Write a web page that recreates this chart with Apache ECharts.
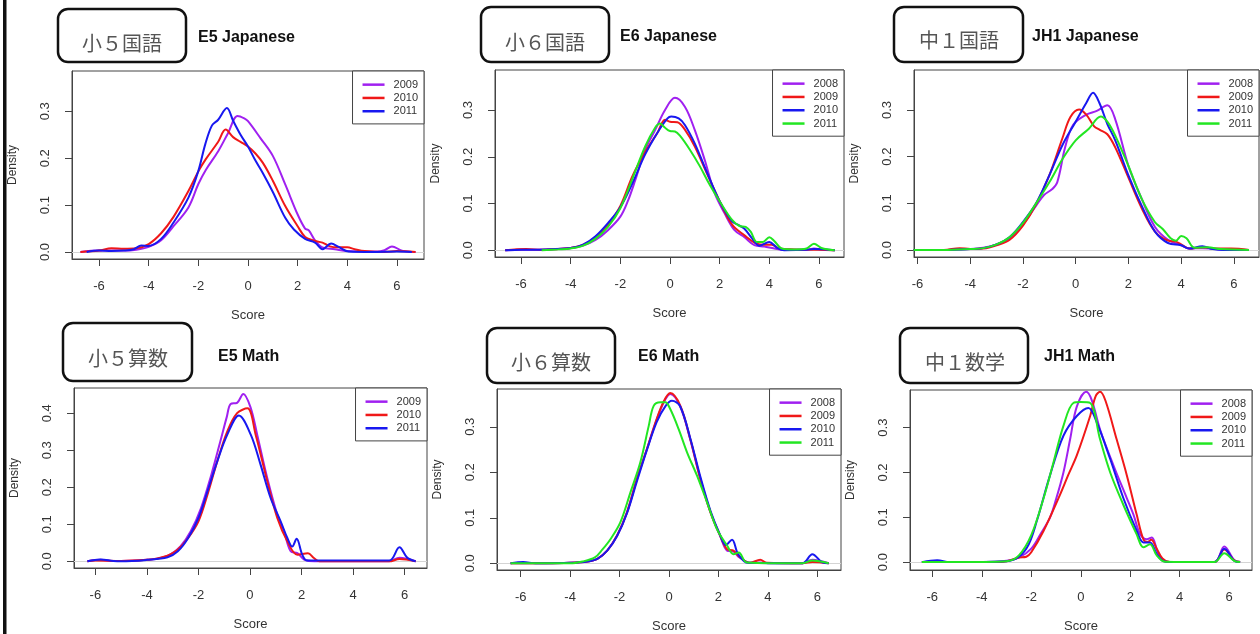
<!DOCTYPE html>
<html><head><meta charset="utf-8">
<script src="https://cdn.jsdelivr.net/npm/echarts@6/dist/echarts.min.js"></script>
<style>html,body{margin:0;padding:0;background:#fff}#c{width:1260px;height:634px}</style>
</head><body><div id="c"></div>
<script>
// ---- tick labels ----
const xTicks = [-6, -4, -2, 0, 2, 4, 6];
const yTicks3 = [0, 0.1, 0.2, 0.3];
const yTicks4 = [0, 0.1, 0.2, 0.3, 0.4];

// ---- E5 Japanese ----
const E5J_2009 = [[-6.75,0],[-6,0.003],[-5.5,0.003],[-5,0.003],[-4.5,0.005],[-4,0.011],[-3.5,0.025],[-3,0.055],[-2.4,0.095],[-2,0.145],[-1.7,0.175],[-1.2,0.215],[-0.8,0.254],[-0.42,0.29],[-0.15,0.285],[0,0.279],[0.5,0.243],[1,0.205],[1.5,0.144],[2,0.08],[2.3,0.05],[2.45,0.046],[2.7,0.025],[3,0.01],[3.5,0.006],[4,0.002],[4.5,0.001],[5.2,0.001],[5.5,0.004],[5.8,0.012],[6.2,0.003],[6.75,0]];
const E5J_2010 = [[-6.75,0],[-6,0.003],[-5.5,0.008],[-5,0.007],[-4.5,0.008],[-4,0.017],[-3.5,0.04],[-3,0.075],[-2.4,0.13],[-2,0.172],[-1.7,0.198],[-1.2,0.235],[-0.9,0.261],[-0.6,0.245],[-0.3,0.235],[0,0.225],[0.3,0.21],[0.6,0.19],[1,0.152],[1.5,0.098],[2,0.055],[2.3,0.032],[2.6,0.025],[3,0.02],[3.3,0.012],[3.6,0.01],[4,0.01],[4.3,0.006],[4.7,0.002],[5.5,0],[6,0.002],[6.75,0]];
const E5J_2011 = [[-6.5,0],[-6,0.003],[-5.5,0.002],[-5,0.003],[-4.6,0.006],[-4.3,0.014],[-4,0.013],[-3.5,0.028],[-3,0.063],[-2.4,0.116],[-2,0.173],[-1.72,0.23],[-1.45,0.27],[-1.2,0.282],[-0.85,0.307],[-0.6,0.28],[-0.3,0.25],[0,0.225],[0.3,0.195],[0.6,0.168],[1,0.128],[1.5,0.073],[1.85,0.048],[2.3,0.028],[2.7,0.02],[3,0.006],[3.35,0.018],[3.65,0.011],[4.05,0.001],[5,0],[6,0.001],[6.6,0]];

// ---- E6 Japanese ----
const E6J_2008 = [[-6.64,0],[-6,0.001],[-5,0.002],[-4,0.005],[-3.5,0.01],[-3,0.022],[-2.5,0.043],[-2,0.072],[-1.7,0.105],[-1.4,0.15],[-1,0.215],[-0.6,0.257],[-0.2,0.3],[0.2,0.326],[0.6,0.307],[1,0.257],[1.4,0.193],[1.8,0.122],[2.2,0.079],[2.6,0.043],[3,0.028],[3.4,0.011],[3.8,0.008],[4.2,0.004],[4.6,0.001],[5.5,0.001],[5.8,0.004],[6.2,0.001],[6.64,0]];
const E6J_2009 = [[-6.64,0],[-5.8,0.003],[-5.2,0.001],[-4.5,0.003],[-4,0.005],[-3.5,0.012],[-3,0.028],[-2.5,0.055],[-2,0.095],[-1.5,0.16],[-1,0.21],[-0.5,0.252],[-0.2,0.279],[0,0.275],[0.3,0.274],[0.6,0.258],[1,0.222],[1.5,0.163],[2,0.105],[2.5,0.055],[3,0.032],[3.5,0.014],[3.8,0.012],[4.1,0.012],[4.4,0.004],[5,0.002],[6,0.001],[6.64,0]];
const E6J_2010 = [[-6.64,0],[-6,0.001],[-5,0.002],[-4,0.005],[-3.5,0.012],[-3,0.03],[-2.5,0.058],[-2,0.092],[-1.5,0.145],[-1,0.205],[-0.5,0.252],[-0.1,0.282],[0.05,0.286],[0.35,0.282],[0.6,0.268],[1,0.228],[1.5,0.165],[2,0.105],[2.5,0.062],[2.8,0.053],[3,0.046],[3.3,0.026],[3.6,0.01],[4,0.018],[4.3,0.006],[4.6,0],[5.5,0.001],[5.8,0.003],[6.64,0]];
const E6J_2011 = [[-5.17,0],[-4.5,0.002],[-4,0.004],[-3.5,0.01],[-3,0.025],[-2.5,0.05],[-2,0.09],[-1.5,0.155],[-1,0.222],[-0.6,0.262],[-0.4,0.271],[-0.2,0.262],[0,0.255],[0.2,0.254],[0.4,0.245],[0.8,0.215],[1.2,0.18],[1.6,0.14],[2,0.105],[2.5,0.065],[2.8,0.052],[3.05,0.05],[3.25,0.04],[3.5,0.018],[3.75,0.018],[4,0.028],[4.2,0.02],[4.5,0.004],[5,0.002],[5.5,0.004],[5.8,0.014],[6.1,0.005],[6.64,0]];

// ---- JH1 Japanese ----
const JH1J_2008 = [[-6.15,0],[-5,0],[-4.5,0.001],[-4,0.002],[-3.5,0.005],[-3,0.012],[-2.5,0.026],[-2,0.055],[-1.5,0.095],[-1.2,0.118],[-0.9,0.13],[-0.7,0.145],[-0.4,0.22],[-0.1,0.268],[0.4,0.29],[0.8,0.298],[1.2,0.31],[1.5,0.28],[2,0.18],[2.5,0.11],[3,0.05],[3.5,0.022],[4,0.01],[4.3,0.003],[4.8,0.004],[5.3,0.002],[6,0.001],[6.57,0]];
const JH1J_2009 = [[-6.15,0],[-5,0],[-4.4,0.004],[-4,0.002],[-3.5,0.003],[-3,0.01],[-2.5,0.022],[-2,0.052],[-1.5,0.098],[-1,0.16],[-0.5,0.24],[-0.2,0.285],[0.13,0.301],[0.4,0.29],[0.7,0.265],[0.9,0.258],[1.2,0.248],[1.5,0.22],[2,0.155],[2.5,0.09],[3,0.04],[3.5,0.02],[3.8,0.018],[4,0.012],[4.3,0.003],[4.8,0.006],[5.3,0.003],[5.9,0.003],[6.57,0]];
const JH1J_2010 = [[-6.15,0],[-5,0],[-4,0.002],[-3.5,0.004],[-3,0.012],[-2.5,0.028],[-2,0.06],[-1.5,0.1],[-1,0.16],[-0.5,0.225],[0,0.275],[0.4,0.315],[0.66,0.337],[0.9,0.315],[1.2,0.27],[1.5,0.235],[2,0.16],[2.5,0.095],[3,0.04],[3.5,0.015],[4,0.01],[4.3,0.003],[4.8,0.008],[5.2,0.002],[5.6,0],[6.57,0]];
const JH1J_2011 = [[-6.15,0],[-5,0],[-4,0.002],[-3.5,0.004],[-3,0.012],[-2.5,0.028],[-2,0.058],[-1.5,0.1],[-1,0.145],[-0.5,0.195],[0,0.235],[0.5,0.26],[0.95,0.286],[1.2,0.275],[1.5,0.245],[2,0.18],[2.5,0.11],[3,0.06],[3.3,0.045],[3.6,0.025],[3.8,0.02],[4,0.03],[4.2,0.025],[4.5,0.005],[5,0.006],[5.5,0.002],[6.57,0]];

// ---- E5 Math ----
const E5M_2009 = [[-6.31,0],[-5.8,0.004],[-5.3,0.001],[-5,0.001],[-4,0.004],[-3.6,0.007],[-3.1,0.018],[-2.7,0.04],[-2.3,0.081],[-1.9,0.144],[-1.5,0.234],[-1.15,0.324],[-0.9,0.39],[-0.75,0.425],[-0.5,0.428],[-0.26,0.452],[0.03,0.414],[0.28,0.342],[0.67,0.225],[1.06,0.126],[1.32,0.081],[1.58,0.027],[1.84,0.022],[2.1,0.005],[2.5,0],[5.4,0],[5.8,0.01],[6.43,0]];
const E5M_2010 = [[-6.31,0],[-6,0.002],[-5,0.001],[-4,0.004],[-3.6,0.008],[-3.2,0.015],[-2.8,0.032],[-2.4,0.063],[-2,0.108],[-1.65,0.18],[-1.27,0.27],[-0.88,0.351],[-0.5,0.4],[-0.1,0.413],[0.22,0.342],[0.67,0.216],[1.06,0.117],[1.45,0.054],[1.84,0.018],[2.25,0.022],[2.48,0.009],[2.7,0],[5.4,0],[5.8,0.006],[6.43,0]];
const E5M_2011 = [[-6.31,0],[-5.8,0.005],[-5.3,0.001],[-5,0],[-4,0.004],[-3.2,0.011],[-2.8,0.027],[-2.4,0.063],[-2,0.117],[-1.65,0.189],[-1.27,0.27],[-0.88,0.342],[-0.43,0.394],[0.03,0.342],[0.41,0.261],[0.8,0.171],[1.19,0.108],[1.45,0.063],[1.64,0.04],[1.81,0.061],[2.03,0.018],[2.22,0.002],[5.4,0.002],[5.8,0.038],[6.1,0.01],[6.43,0]];

// ---- E6 Math ----
const E6M_2008 = [[-6.41,0],[-5,0],[-4,0.001],[-3.3,0.004],[-2.9,0.01],[-2.5,0.028],[-2.1,0.061],[-1.7,0.112],[-1.3,0.185],[-0.9,0.25],[-0.5,0.315],[-0.2,0.355],[0.05,0.372],[0.45,0.345],[0.86,0.272],[1.27,0.185],[1.68,0.112],[2.07,0.06],[2.35,0.028],[2.6,0.026],[2.85,0.013],[3.3,0.001],[3.7,0.002],[4,0],[5.4,0],[5.8,0.008],[6.46,0]];
const E6M_2009 = [[-6.41,0],[-5,0],[-4,0.001],[-3.3,0.004],[-2.9,0.01],[-2.5,0.028],[-2.1,0.061],[-1.7,0.112],[-1.3,0.185],[-0.9,0.25],[-0.5,0.317],[-0.2,0.357],[0.05,0.374],[0.46,0.346],[0.86,0.273],[1.27,0.185],[1.68,0.112],[2.07,0.061],[2.35,0.031],[2.61,0.028],[2.88,0.013],[3.29,0.001],[3.69,0.008],[3.96,0.001],[5.4,0],[5.8,0.003],[6.46,0]];
const E6M_2010 = [[-6.41,0],[-5.9,0.003],[-5.4,0],[-4,0.001],[-3.3,0.004],[-2.9,0.01],[-2.5,0.028],[-2.1,0.06],[-1.7,0.11],[-1.3,0.18],[-0.9,0.248],[-0.5,0.31],[-0.15,0.345],[0.12,0.357],[0.45,0.345],[0.86,0.275],[1.27,0.19],[1.68,0.115],[2.07,0.062],[2.3,0.04],[2.55,0.052],[2.8,0.02],[3.2,0.001],[5.4,0],[5.8,0.02],[6.2,0.002],[6.46,0]];
const E6M_2011 = [[-6.41,0],[-5,0],[-4,0],[-3.5,0.004],[-3,0.013],[-2.7,0.03],[-2.37,0.053],[-1.97,0.09],[-1.56,0.156],[-1.16,0.222],[-0.82,0.302],[-0.62,0.346],[-0.35,0.354],[-0.15,0.354],[0.05,0.339],[0.39,0.295],[0.73,0.244],[1.13,0.193],[1.54,0.134],[1.94,0.075],[2.35,0.039],[2.61,0.02],[2.82,0.024],[3.15,0.002],[5.4,0],[5.8,0.006],[6.46,0]];

// ---- JH1 Math ----
const JH1M_2008 = [[-6.42,0],[-5,0],[-3.5,0.001],[-3,0.003],[-2.5,0.01],[-2,0.03],[-1.6,0.065],[-1.24,0.1],[-1,0.14],[-0.7,0.2],[-0.43,0.274],[-0.16,0.347],[0.22,0.38],[0.44,0.362],[0.78,0.296],[1.32,0.216],[1.86,0.143],[2.13,0.106],[2.4,0.062],[2.67,0.051],[2.87,0.055],[3.14,0.018],[3.4,0.002],[3.6,0],[5.4,0],[5.8,0.035],[6.2,0.005],[6.44,0]];
const JH1M_2009 = [[-6.42,0],[-5,0],[-3.2,0],[-3,0.002],[-2.5,0.01],[-2.2,0.012],[-2,0.022],[-1.5,0.07],[-0.84,0.15],[-0.5,0.195],[-0.16,0.238],[0.38,0.326],[0.6,0.37],[0.78,0.38],[1.0,0.36],[1.45,0.274],[1.86,0.194],[2.26,0.106],[2.53,0.051],[2.7,0.045],[2.85,0.05],[3.05,0.032],[3.3,0.008],[3.6,0],[5.4,0],[5.8,0.028],[6.2,0.004],[6.44,0]];
const JH1M_2010 = [[-6.42,0],[-5.8,0.004],[-5.3,0],[-3,0.002],[-2.5,0.012],[-2.1,0.04],[-1.78,0.091],[-1.24,0.194],[-0.7,0.282],[-0.16,0.326],[0.31,0.344],[0.65,0.311],[1.19,0.23],[1.72,0.143],[2.26,0.07],[2.53,0.044],[2.8,0.044],[3.07,0.018],[3.34,0.002],[3.6,0],[5.4,0],[5.8,0.03],[6.2,0.003],[6.44,0]];
const JH1M_2011 = [[-6.42,0],[-5,0],[-3,0.002],[-2.5,0.015],[-2,0.06],[-1.5,0.143],[-1.1,0.223],[-0.7,0.304],[-0.3,0.355],[0,0.357],[0.38,0.355],[0.78,0.274],[1.19,0.2],[1.72,0.128],[2.26,0.062],[2.53,0.033],[2.8,0.04],[3.07,0.015],[3.4,0.001],[5.4,0],[5.8,0.02],[6.2,0.003],[6.44,0]];

// ---- styling ----
const PURPLE = '#A020F0', RED = '#F01818', BLUE = '#1818F0', GREEN = '#22E622';
const W = 1260;

const panels = [
  {key:'E5J', jp:'小５国語', en:'E5 Japanese', years:['2009','2010','2011'], colors:[PURPLE,RED,BLUE], data:[E5J_2009,E5J_2010,E5J_2011], yTicks:yTicks3,
   g:{left:72,top:71,width:352,height:188}, x:[-7.09,7.09], y:[-0.0149,0.386], box:[58,9,128,53], jpc:[122,43], enp:[198,38]},
  {key:'E6J', jp:'小６国語', en:'E6 Japanese', years:['2008','2009','2010','2011'], colors:[PURPLE,RED,BLUE,GREEN], data:[E6J_2008,E6J_2009,E6J_2010,E6J_2011], yTicks:yTicks3,
   g:{left:495,top:70,width:349,height:187}, x:[-7.05,7.01], y:[-0.0143,0.3855], box:[481,7,128,55], jpc:[545,42], enp:[620,37]},
  {key:'JH1J', jp:'中１国語', en:'JH1 Japanese', years:['2008','2009','2010','2011'], colors:[PURPLE,RED,BLUE,GREEN], data:[JH1J_2008,JH1J_2009,JH1J_2010,JH1J_2011], yTicks:yTicks3,
   g:{left:914,top:70,width:345,height:187}, x:[-6.13,6.95], y:[-0.015,0.3857], box:[894,7,129,55], jpc:[959,40], enp:[1032,37]},
  {key:'E5M', jp:'小５算数', en:'E5 Math', years:['2009','2010','2011'], colors:[PURPLE,RED,BLUE], data:[E5M_2009,E5M_2010,E5M_2011], yTicks:yTicks4,
   g:{left:74,top:388,width:353,height:180}, x:[-6.83,6.87], y:[-0.018,0.468], box:[63,323,129,58], jpc:[128,358], enp:[218,357]},
  {key:'E6M', jp:'小６算数', en:'E6 Math', years:['2008','2009','2010','2011'], colors:[PURPLE,RED,BLUE,GREEN], data:[E6M_2008,E6M_2009,E6M_2010,E6M_2011], yTicks:yTicks3,
   g:{left:497,top:389,width:344,height:181}, x:[-6.96,6.96], y:[-0.0147,0.383], box:[487,328,128,55], jpc:[551,362], enp:[638,357]},
  {key:'JH1M', jp:'中１数学', en:'JH1 Math', years:['2008','2009','2010','2011'], colors:[PURPLE,RED,BLUE,GREEN], data:[JH1M_2008,JH1M_2009,JH1M_2010,JH1M_2011], yTicks:yTicks3,
   g:{left:910,top:390,width:342,height:183}, x:[-6.90,6.92], y:[-0.0176,0.384], box:[900,328,128,55], jpc:[965,362], enp:[1044,357]}
];

const FONT = '"Liberation Sans", Arial, Helvetica, sans-serif';
const AX = '#444';
const grid = [], xAxis = [], yAxis = [], series = [], legend = [];
const graphic = [{type:'rect', shape:{x:3, y:0, width:3.5, height:634}, style:{fill:'#111'}, silent:true}];

panels.forEach((p, i) => {
  grid.push(Object.assign({show:true, borderColor:AX, borderWidth:1, backgroundColor:'rgba(0,0,0,0)'}, p.g));
  xAxis.push({type:'value', gridIndex:i, min:p.x[0], max:p.x[1],
    axisLine:{show:true, onZero:false, lineStyle:{color:AX}},
    axisTick:{show:true, customValues:xTicks, length:7, lineStyle:{color:AX}},
    axisLabel:{customValues:xTicks, margin:21, fontSize:13, color:'#333', fontFamily:FONT},
    splitLine:{show:false},
    name:'Score', nameLocation:'middle', nameGap:50, nameTextStyle:{fontSize:13, color:'#333', fontFamily:FONT}});
  yAxis.push({type:'value', gridIndex:i, min:p.y[0], max:p.y[1],
    axisLine:{show:true, onZero:false, lineStyle:{color:AX}},
    axisTick:{show:true, customValues:p.yTicks, length:7, lineStyle:{color:AX}},
    axisLabel:{customValues:p.yTicks, rotate:90, margin:20, fontSize:13, color:'#333', fontFamily:FONT, formatter:v => v.toFixed(1)},
    splitLine:{show:false},
    name:'Density', nameLocation:'middle', nameRotate:90, nameGap:53, nameTextStyle:{fontSize:12, color:'#333', fontFamily:FONT}});
  const names = [];
  p.years.forEach((yr, k) => {
    const nm = p.key + '|' + yr;
    names.push(nm);
    const s = {type:'line', name:nm, xAxisIndex:i, yAxisIndex:i, data:p.data[k], smooth:0.35, symbol:'none', showSymbol:false,
      lineStyle:{color:p.colors[k], width:2}, itemStyle:{color:p.colors[k]}, z:3};
    if (k === 0) {
      s.markLine = {silent:true, symbol:'none', label:{show:false}, animation:false,
        lineStyle:{color:'#d4d4d4', width:1, type:'solid'}, data:[{yAxis:0}], z:1};
    }
    series.push(s);
  });
  legend.push({orient:'vertical', right: W - (p.g.left + p.g.width), top: p.g.top, data:names, selectedMode:false,
    formatter: n => n.split('|')[1], icon:'rect', itemWidth:22, itemHeight:2.5, itemGap:0,
    padding:[7,6,6,10], borderColor:AX, borderWidth:1, backgroundColor:'#fff',
    textStyle:{fontSize:11, color:'#333', fontFamily:FONT, lineHeight:13.3, padding:[0,0,0,4]}});
  graphic.push({type:'rect', shape:{x:p.box[0], y:p.box[1], width:p.box[2], height:p.box[3], r:10},
    style:{fill:'#fff', stroke:'#111', lineWidth:2.5}, silent:true});
  graphic.push({type:'text', x:p.jpc[0], y:p.jpc[1], style:{text:p.jp, fill:'#555', font:'20px "Noto Sans CJK JP"', textAlign:'center', textVerticalAlign:'middle'}, silent:true});
  graphic.push({type:'text', x:p.enp[0], y:p.enp[1], style:{text:p.en, fill:'#111', font:'bold 16px ' + FONT, textAlign:'left', textVerticalAlign:'middle'}, silent:true});
});

const chart = echarts.init(document.getElementById('c'), null, {renderer:'canvas'});
chart.setOption({animation:false, backgroundColor:'#fff', textStyle:{fontFamily:FONT},
  grid, xAxis, yAxis, series, legend, graphic});
</script></body></html>
